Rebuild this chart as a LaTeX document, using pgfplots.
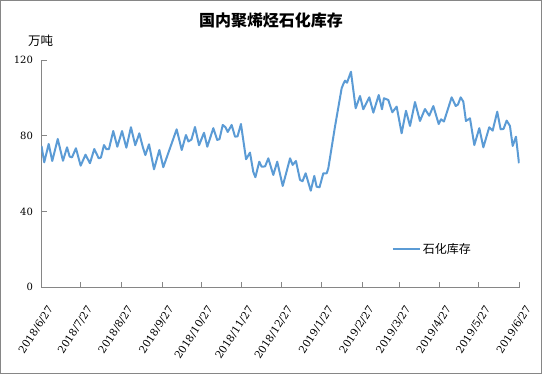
\documentclass[border=0pt]{standalone}
\usepackage{fontspec}
\setmainfont{DejaVu Serif}
\newfontfamily\cjk{Noto Sans CJK SC}
\usepackage{pgfplots}
\pgfplotsset{compat=1.18}
\definecolor{serie}{HTML}{5B9BD5}
\definecolor{ax}{HTML}{868686}
\begin{document}
\begin{tikzpicture}[x=1pt,y=1pt]
\useasboundingbox (0,0) rectangle (542,374);
\draw[color=ax, line width=1pt] (0.5,0.5) rectangle (541.5,373.5);
\node[font=\cjk\bfseries\fontsize{16}{16}\selectfont] at (271,353.3) {国内聚烯烃石化库存};
\node[font=\cjk\fontsize{12.5}{12.5}\selectfont] at (40.6,333.2) {万吨};
\begin{axis}[
  scale only axis, width=478pt, height=227.3pt,
  at={(41.5pt,86.7pt)}, anchor=south west,
  xmin=0, xmax=365, ymin=0, ymax=120,
  axis x line*=bottom, axis y line*=left,
  axis line style={draw=ax, line width=0.9pt, -},
  tick style={draw=ax, line width=0.9pt},
  major tick length=5pt, tick align=inside,
  ytick={0,40,80,120},
  xtick={0,30,61,92,122,153,183,214,245,273,304,334,365},
  xticklabels={2018/6/27,2018/7/27,2018/8/27,2018/9/27,2018/10/27,2018/11/27,2018/12/27,2019/1/27,2019/2/27,2019/3/27,2019/4/27,2019/5/27,2019/6/27},
  /pgf/number format/assume math mode=true,
  yticklabel style={font=\fontsize{10}{10}\selectfont, xshift=-5pt},
  xticklabel style={font=\fontsize{10.5}{10.5}\selectfont, xshift=11pt, yshift=-17pt, rotate=57, anchor=east},
  legend style={at={(0.7326,0.167)}, anchor=west, draw=none, fill=none, font=\cjk\fontsize{12}{12}\selectfont, inner sep=0pt},
  legend image code/.code={\draw[#1] (0pt,0pt) -- (27pt,0pt);},
]
\addplot[color=serie, line width=2pt, line join=round] coordinates {
(0,74.6) (2.1,66) (5.5,75.7) (8.2,66.7) (12.4,78.3) (16.4,66.8) (19.5,73.9) (21.5,69) (23.3,68.6) (26.3,73.4) (29.9,64.2) (33.6,70) (37,65.5) (40.3,73) (43.7,68.1) (45.4,68.5) (47.7,75.1) (49.6,72.9) (51.5,73) (54.8,82.5) (57.9,74.2) (61.5,82.5) (64.8,73.7) (68.3,84.5) (71.6,75) (74.7,81.3) (77.3,74.2) (79.3,69.8) (82.1,75.5) (85.9,62.3) (90,72.5) (93,63.4) (103.2,83.4) (107.1,72.5) (110.3,80.4) (112.2,77) (114.5,78) (117.2,84.6) (120.3,75) (124.1,81.6) (126.6,74.2) (131.2,84) (134.2,77.8) (135.9,78.2) (138.4,85.7) (140.5,84.5) (142.2,82) (145.2,85.7) (147.8,79.5) (149.7,79.7) (152.3,86.2) (156.2,67.6) (159.2,71.1) (161.7,61) (163.3,58.1) (166.3,66.3) (168.1,63.7) (170.7,63.8) (173.2,68.1) (177,59.3) (180,66.3) (184.2,53.5) (187.1,61) (189.8,68.1) (191.8,64.6) (194.3,66.7) (197.4,56.7) (199.3,56) (201.7,60.2) (205.6,51) (208.3,58.8) (210.1,53.1) (212.3,52.8) (215.2,60.2) (217.8,60.2) (219,62.8) (224.1,84.8) (229.2,105.1) (230.6,107.5) (231.8,109.1) (233.3,108) (236.3,113.8) (239.9,94.5) (243.2,101) (245.7,94) (250.3,100.3) (253.4,92.2) (257.5,101.5) (260,94) (261.5,99.8) (264.8,98.9) (267.9,92.4) (271.2,95.4) (275,81.3) (278.3,93.2) (281.4,85.2) (285.2,97.8) (289,87.8) (292.8,94.1) (296.1,90.6) (299.2,95.7) (303.3,86.2) (305.1,88.7) (307.3,87.5) (313.2,100.3) (316.3,95.7) (318,96.5) (320.1,100.3) (322.1,98) (324.1,87.8) (327.2,89.2) (330.5,75.1) (334.3,84) (337.4,73.9) (341.9,84.5) (344.5,82.7) (348,92.7) (350.6,83.4) (352.8,83.6) (355.2,88) (357.7,85.2) (359.8,74.6) (362.3,79.5) (364.6,65.5)
};
\addlegendentry{石化库存}
\end{axis}
\end{tikzpicture}
\end{document}
